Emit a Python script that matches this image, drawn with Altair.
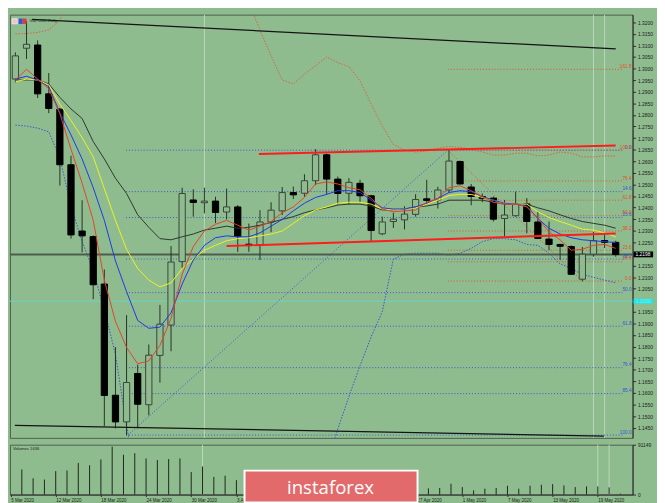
import altair as alt
import pandas as pd

BG = "#8fbc8f"
W_MAIN = 637
H_MAIN = 433
H_VOL = 51
X_DOMAIN = [-1.051, 54.077]
P_DOMAIN = [1.1406, 1.3233]
V_MAX = 91149

# ---------------- data ----------------
bar_idx = list(range(-1, 54))
opens = [1.2955, 1.3088, 1.3102, 1.2891, 1.2825, 1.2585, 1.2299, 1.2275, 1.2070, 1.1590,
         1.1475, 1.1684, 1.1549, 1.1762, 1.1893, 1.2167, 1.2433, 1.2421, 1.2428, 1.2381,
         1.2403, 1.2242, 1.2240, 1.2338, 1.2386, 1.2465, 1.2462, 1.2516, 1.2628, 1.2523,
         1.2462, 1.2505, 1.2451, 1.2287, 1.2340, 1.2347, 1.2371, 1.2438, 1.2433, 1.2476,
         1.2599, 1.2489, 1.2448, 1.2441, 1.2353, 1.2365, 1.2416, 1.2338, 1.2264, 1.2241,
         1.2232, 1.2091, 1.2199, 1.2258, 1.2250]
highs = [1.3070, 1.3205, 1.3122, 1.2981, 1.2830, 1.2624, 1.2432, 1.2280, 1.2133, 1.1798,
         1.1936, 1.1722, 1.1809, 1.1980, 1.2234, 1.2486, 1.2479, 1.2486, 1.2447, 1.2482,
         1.2411, 1.2331, 1.2389, 1.2423, 1.2489, 1.2491, 1.2544, 1.2652, 1.2634, 1.2534,
         1.2527, 1.2520, 1.2455, 1.2361, 1.2378, 1.2406, 1.2458, 1.2520, 1.2490, 1.2648,
         1.2603, 1.2502, 1.2461, 1.2448, 1.2433, 1.2469, 1.2441, 1.2382, 1.2340, 1.2244,
         1.2237, 1.2230, 1.2295, 1.2292, 1.2257]
lows = [1.2940, 1.3042, 1.2873, 1.2808, 1.2495, 1.2266, 1.2207, 1.2005, 1.1457, 1.1447,
        1.1418, 1.1447, 1.1503, 1.1644, 1.1780, 1.2140, 1.2361, 1.2375, 1.2333, 1.2349,
        1.2209, 1.2209, 1.2174, 1.2294, 1.2368, 1.2437, 1.2447, 1.2497, 1.2458, 1.2414,
        1.2414, 1.2423, 1.2253, 1.2281, 1.2312, 1.2306, 1.2361, 1.2416, 1.2396, 1.2465,
        1.2500, 1.2410, 1.2423, 1.2340, 1.2275, 1.2361, 1.2289, 1.2264, 1.2216, 1.2174,
        1.2109, 1.2082, 1.2188, 1.2225, 1.2188]
closes = [1.3055, 1.3105, 1.2891, 1.2828, 1.2585, 1.2282, 1.2278, 1.2067, 1.1589, 1.1475,
          1.1645, 1.1551, 1.1763, 1.1897, 1.2165, 1.2461, 1.2422, 1.2428, 1.2379, 1.2403,
          1.2275, 1.2236, 1.2338, 1.2389, 1.2465, 1.2455, 1.2516, 1.2628, 1.2523, 1.2461,
          1.2509, 1.2451, 1.2301, 1.2338, 1.2350, 1.2372, 1.2435, 1.2431, 1.2476, 1.2601,
          1.2502, 1.2448, 1.2440, 1.2350, 1.2368, 1.2416, 1.2340, 1.2267, 1.2241, 1.2233,
          1.2112, 1.2199, 1.2257, 1.2250, 1.2198]

ma_red = [1.2951, 1.2997, 1.2955, 1.2913, 1.2805, 1.2652, 1.2506, 1.2345, 1.2087, 1.1909,
          1.1796, 1.1726, 1.1738, 1.1805, 1.1921, 1.2112, 1.2232, 1.2299, 1.2328, 1.2345,
          1.2324, 1.2303, 1.2320, 1.2340, 1.2378, 1.2403, 1.2444, 1.2502, 1.2511, 1.2502,
          1.2486, 1.2477, 1.2440, 1.2394, 1.2382, 1.2386, 1.2390, 1.2423, 1.2440, 1.2486,
          1.2494, 1.2473, 1.2448, 1.2423, 1.2415, 1.2415, 1.2403, 1.2353, 1.2295, 1.2261,
          1.2216, 1.2220, 1.2237, 1.2241, 1.2224]
ma_blue = [1.2955, 1.2967, 1.2951, 1.2922, 1.2810, 1.2714, 1.2610, 1.2486, 1.2345, 1.2170,
           1.2037, 1.1913, 1.1879, 1.1884, 1.1946, 1.2070, 1.2174, 1.2237, 1.2270, 1.2278,
           1.2274, 1.2274, 1.2291, 1.2320, 1.2349, 1.2386, 1.2419, 1.2444, 1.2457, 1.2473,
           1.2473, 1.2465, 1.2432, 1.2399, 1.2394, 1.2394, 1.2403, 1.2419, 1.2440, 1.2465,
           1.2473, 1.2469, 1.2448, 1.2432, 1.2419, 1.2415, 1.2407, 1.2353, 1.2311, 1.2286,
           1.2270, 1.2261, 1.2257, 1.2253, 1.2249]
ma_yellow = [1.2943, 1.2955, 1.2951, 1.2930, 1.2847, 1.2776, 1.2702, 1.2619, 1.2482, 1.2345,
             1.2220, 1.2137, 1.2087, 1.2058, 1.2075, 1.2137, 1.2178, 1.2216, 1.2237, 1.2257,
             1.2266, 1.2270, 1.2278, 1.2286, 1.2299, 1.2332, 1.2365, 1.2390, 1.2403, 1.2419,
             1.2423, 1.2423, 1.2415, 1.2394, 1.2390, 1.2394, 1.2399, 1.2415, 1.2432, 1.2452,
             1.2457, 1.2457, 1.2444, 1.2432, 1.2419, 1.2415, 1.2415, 1.2382, 1.2357, 1.2340,
             1.2324, 1.2307, 1.2303, 1.2291, 1.2274]
ma_gray = [1.2951, 1.2951, 1.2951, 1.2934, 1.2876, 1.2826, 1.2785, 1.2685, 1.2610, 1.2527,
           1.2461, 1.2369, 1.2315, 1.2266, 1.2261, 1.2274, 1.2286, 1.2303, 1.2311, 1.2320,
           1.2311, 1.2315, 1.2324, 1.2336, 1.2349, 1.2361, 1.2378, 1.2390, 1.2399, 1.2411,
           1.2415, 1.2415, 1.2407, 1.2390, 1.2390, 1.2394, 1.2403, 1.2407, 1.2415, 1.2432,
           1.2432, 1.2432, 1.2432, 1.2423, 1.2415, 1.2415, 1.2415, 1.2399, 1.2386, 1.2369,
           1.2353, 1.2340, 1.2332, 1.2324, 1.2311]

# Bollinger-style envelope (dotted), two visible pieces each
bb_up_idx_a = [-1, 0, 1, 2, 3, 3.3]
bb_up_val_a = [1.3150, 1.3152, 1.3156, 1.3167, 1.3208, 1.3254]
bb_up_idx_b = [20.3, 21, 22, 23, 24, 25, 26, 27, 28, 29, 30, 31, 32, 33, 34, 35, 36, 37,
               38, 39, 40, 41, 42, 43, 44, 45, 46, 47, 48, 49, 50, 51, 52, 53]
bb_up_val_b = [1.3250, 1.3167, 1.3055, 1.2951, 1.2934, 1.2976, 1.3013, 1.3050, 1.3026, 1.3009,
               1.2947, 1.2847, 1.2752, 1.2673, 1.2648, 1.2640, 1.2644, 1.2656, 1.2664, 1.2660,
               1.2652, 1.2640, 1.2627, 1.2627, 1.2635, 1.2635, 1.2623, 1.2627, 1.2640, 1.2635,
               1.2619, 1.2619, 1.2623, 1.2623]
bb_lo_idx_a = [-1, 0, 1, 2, 3, 4, 5, 6, 7, 8, 9, 9.3]
bb_lo_val_a = [1.2756, 1.2752, 1.2743, 1.2727, 1.2614, 1.2407, 1.2253, 1.2129, 1.1958, 1.1767,
               1.1456, 1.1380]
bb_lo_idx_b = [27.6, 28, 29, 30, 31, 32, 33, 34, 35, 36, 37, 38, 39, 40, 41, 42, 43, 44, 45,
               46, 47, 48, 49, 50, 51, 52, 53]
bb_lo_val_b = [1.1380, 1.1444, 1.1584, 1.1718, 1.1842, 1.1950, 1.2178, 1.2199, 1.2203, 1.2203,
               1.2203, 1.2195, 1.2203, 1.2224, 1.2253, 1.2266, 1.2266, 1.2261, 1.2241, 1.2237,
               1.2203, 1.2157, 1.2137, 1.2112, 1.2099, 1.2087, 1.2075]

# Fibonacci levels
fib_blue_prices = [1.2648, 1.2469, 1.2357, 1.2178, 1.2033, 1.1888, 1.1709, 1.1597, 1.1418]
fib_blue_labels = ["0.0", "14.6", "23.6", "38.2", "50.0", "61.8", "76.4", "85.4", "100.0"]
fib_blue_span = [8.95, 53.6]
fib_red_prices = [1.2083, 1.2166, 1.2216, 1.2299, 1.2365, 1.2432, 1.2515, 1.2648, 1.2997]
fib_red_labels = ["0.0", "14.6", "23.6", "38.2", "50.0", "61.8", "76.4", "100.0", "161.8"]
fib_red_span = [37.9, 53.6]

# straight lines: (x1, p1, x2, p2)
trend_black = [(0.5, 1.3213, 53.0, 1.3085), (-1.05, 1.1460, 51.95, 1.1414)]
trend_red = [(20.9, 1.2631, 53.0, 1.2668), (18.0, 1.2234, 53.0, 1.2288)]
fib_diag_blue = [(9.12, 1.1418, 37.9, 1.2648)]
fib_diag_red = [(37.9, 1.2648, 50.0, 1.2083)]

bid_price = 1.2198
cyan_price = 1.1996
separator_idx = [16, 51, 52]

price_ticks = [1.3200, 1.3150, 1.3100, 1.3050, 1.3000, 1.2950, 1.2900, 1.2850, 1.2800,
               1.2750, 1.2700, 1.2650, 1.2600, 1.2550, 1.2500, 1.2450, 1.2400, 1.2350,
               1.2300, 1.2250, 1.2200, 1.2150, 1.2100, 1.2050, 1.2000, 1.1950, 1.1900,
               1.1850, 1.1800, 1.1750, 1.1700, 1.1650, 1.1600, 1.1550, 1.1500, 1.1450]

vol_idx = list(range(0, 54))
volumes = [45900, 29800, 27400, 42900, 44100, 57800, 53600, 64300, 87600, 72700,
           75600, 66100, 63100, 64900, 66100, 41100, 51300, 32200, 34500, 26300,
           24000, 22000, 21000, 20000, 21000, 19000, 18000, 20000, 22000, 17000,
           16000, 15000, 14000, 15000, 14000, 13000,
           11300, 12000, 19700, 13700, 7700, 10700, 12000, 16100, 10700, 16100,
           17900, 19100, 16700, 13700, 14900, 14900, 13100, 1636]

date_pos = [-0.97, 3, 7, 11, 15, 19, 23, 27, 31, 35, 39, 43, 47, 51]
date_lbl = ["5 Mar 2020", "12 Mar 2020", "18 Mar 2020", "24 Mar 2020", "30 Mar 2020",
            "3 Apr 2020", "9 Apr 2020", "15 Apr 2020", "21 Apr 2020", "27 Apr 2020",
            "1 May 2020", "7 May 2020", "13 May 2020", "19 May 2020"]

# ---------------- frames ----------------
candles = pd.DataFrame({"idx": bar_idx, "open": opens, "high": highs,
                        "low": lows, "close": closes})
bull = candles[candles["close"] >= candles["open"]]
bear = candles[candles["close"] < candles["open"]]


def line_frame(xs_, vs_, seg="a"):
    return pd.DataFrame({"idx": xs_, "val": vs_, "seg": seg})


bb_up = pd.concat([line_frame(bb_up_idx_a, bb_up_val_a, "a"), line_frame(bb_up_idx_b, bb_up_val_b, "b")])
bb_lo = pd.concat([line_frame(bb_lo_idx_a, bb_lo_val_a, "a"), line_frame(bb_lo_idx_b, bb_lo_val_b, "b")])

fib_blue = pd.DataFrame({"x1": fib_blue_span[0], "x2": fib_blue_span[1],
                         "price": fib_blue_prices, "label": fib_blue_labels})
fib_red = pd.DataFrame({"x1": fib_red_span[0], "x2": fib_red_span[1],
                        "price": fib_red_prices, "label": fib_red_labels})


def seg_frame(rows):
    return pd.DataFrame([{"x1": a, "p1": b, "x2": c, "p2": d} for a, b, c, d in rows])


vol_df = pd.DataFrame({"idx": vol_idx, "vol": volumes, "zero": 0})
sep_df = pd.DataFrame({"idx": separator_idx})
one = pd.DataFrame({"k": [0]})

# ---------------- scales / axes ----------------
xs = alt.Scale(domain=X_DOMAIN, nice=False, zero=False)
ys = alt.Scale(domain=P_DOMAIN, nice=False, zero=False)
vs = alt.Scale(domain=[0, V_MAX], nice=False, zero=True)

price_axis = alt.Axis(orient="right", values=price_ticks, format=".4f", title=None,
                      grid=False, labelFontSize=5, tickSize=3, labelPadding=2,
                      domainColor="#2b2b2b", tickColor="#2b2b2b", labelColor="#1a1a1a")


def X(f="idx"):
    return alt.X(f"{f}:Q", scale=xs, axis=None)


def Y(f):
    return alt.Y(f"{f}:Q", scale=ys, axis=price_axis)


def ma_layer(values, color):
    return alt.Chart(line_frame(bar_idx, values)).mark_line(
        strokeWidth=1, color=color, clip=True).encode(x=X(), y=Y("val"))


def seg_layer(rows, color, width, dash=None):
    kw = dict(color=color, strokeWidth=width, clip=True)
    if dash:
        kw["strokeDash"] = dash
    return alt.Chart(seg_frame(rows)).mark_rule(**kw).encode(
        x=X("x1"), x2=alt.X2("x2:Q"), y=Y("p1"), y2=alt.Y2("p2:Q"))


def fib_layers(df, color):
    lines = alt.Chart(df).mark_rule(strokeDash=[1, 2], strokeWidth=1, color=color).encode(
        x=X("x1"), x2=alt.X2("x2:Q"), y=Y("price"))
    text = alt.Chart(df).mark_text(align="right", baseline="bottom", dy=-0.5,
                                   fontSize=4.8, color=color).encode(
        x=alt.value(636), y=Y("price"), text="label:N")
    return lines, text


wicks = alt.Chart(candles).mark_rule(color="#263026", strokeWidth=1, clip=True).encode(
    x=X(), y=Y("low"), y2=alt.Y2("high:Q"))
bodies_bull = alt.Chart(bull).mark_bar(size=6.4, strokeWidth=1, fill=BG, stroke="#3a443a",
                                        clip=True).encode(
    x=X(), y=Y("open"), y2=alt.Y2("close:Q"))
bodies_bear = alt.Chart(bear).mark_bar(size=6.4, strokeWidth=1, fill="#000000", stroke="#000000",
                                        clip=True).encode(
    x=X(), y=Y("open"), y2=alt.Y2("close:Q"))

fib_b_lines, fib_b_text = fib_layers(fib_blue, "#3553d6")
fib_r_lines, fib_r_text = fib_layers(fib_red, "#e0502a")

diag_b = seg_layer(fib_diag_blue, "#3553d6", 1, [1, 2])
diag_r = seg_layer(fib_diag_red, "#e0502a", 1, [1, 2])

bb_up_line = alt.Chart(bb_up).mark_line(strokeDash=[1.5, 1.5], strokeWidth=1, color="#d9603b",
                                        clip=True).encode(x=X(), y=Y("val"), detail="seg:N")
bb_lo_line = alt.Chart(bb_lo).mark_line(strokeDash=[1.5, 1.5], strokeWidth=1, color="#3553d6",
                                        clip=True).encode(x=X(), y=Y("val"), detail="seg:N")

seps_main = alt.Chart(sep_df).mark_rule(color="#b9d9b9", strokeWidth=1).encode(x=X())

bid_line = alt.Chart(pd.DataFrame({"price": [bid_price]})).mark_rule(
    color="#4e5c4e", strokeWidth=2).encode(y=Y("price"))
cyan_line = alt.Chart(pd.DataFrame({"price": [cyan_price]})).mark_rule(
    color="#66d6c6", strokeWidth=1).encode(y=Y("price"))

ma_g = ma_layer(ma_gray, "#2c362c")
ma_y = ma_layer(ma_yellow, "#f2f21e")
ma_b = ma_layer(ma_blue, "#1f36ea")
ma_r = ma_layer(ma_red, "#e8402a")

tr_black = seg_layer(trend_black, "#141414", 1.3)
tr_red = seg_layer(trend_red, "#ff1c1c", 2)

price_box = alt.Chart(pd.DataFrame({"price": [bid_price], "t": ["1.2198"]}))
box_bg = price_box.mark_rule(color="#000000", strokeWidth=6).encode(
    x=alt.value(638), x2=alt.value(658), y=Y("price"))
box_tx = price_box.mark_text(color="white", fontSize=5, align="left", baseline="middle").encode(
    x=alt.value(640), y=Y("price"), text="t:N")
cyan_box = alt.Chart(pd.DataFrame({"price": [cyan_price], "t": ["1.2000"]}))
cbox_bg = cyan_box.mark_rule(color="#22e6e6", strokeWidth=5).encode(
    x=alt.value(638), x2=alt.value(658), y=Y("price"))
cbox_tx = cyan_box.mark_text(color="#7ef2f2", fontSize=5, align="left", baseline="middle").encode(
    x=alt.value(640), y=Y("price"), text="t:N")

title_tx = alt.Chart(one).mark_text(text="GBPUSD,Daily", fontSize=4.2, align="left",
                                    baseline="middle", color="#1e1e1e").encode(
    x=alt.value(20), y=alt.value(7))
icon1 = alt.Chart(one).mark_rect(fill="#f2c4d2", stroke="#ffffff", strokeWidth=0.5).encode(
    x=alt.value(2), x2=alt.value(7.5), y=alt.value(4), y2=alt.value(9.5))
icon2 = alt.Chart(one).mark_rect(fill="#2f50e0").encode(
    x=alt.value(9), x2=alt.value(13), y=alt.value(4), y2=alt.value(9.5))
icon3 = alt.Chart(one).mark_rect(fill="#e03a3a").encode(
    x=alt.value(13), x2=alt.value(17), y=alt.value(4), y2=alt.value(9.5))

main = alt.layer(
    seps_main, cyan_line, fib_b_lines, fib_r_lines, diag_b, diag_r, bb_up_line, bb_lo_line,
    bid_line, wicks, bodies_bull, bodies_bear, ma_g, ma_y, ma_b, ma_r, tr_black, tr_red,
    fib_b_text, fib_r_text, box_bg, box_tx, cbox_bg, cbox_tx, title_tx, icon1, icon2, icon3
).properties(width=W_MAIN, height=H_MAIN)

# ---------------- volume panel ----------------
label_expr = "".join(f"datum.value == {p} ? '{l}' : " for p, l in zip(date_pos, date_lbl)) + "''"
vol_x_axis = alt.Axis(values=date_pos, labelExpr=label_expr, labelAlign="left", labelFontSize=4.6,
                      tickSize=2, labelPadding=1, labelFlush=False, labelOverlap=False,
                      title=None, grid=False, domainColor="#2b2b2b", tickColor="#2b2b2b",
                      labelColor="#1a1a1a")
vol_y_axis = alt.Axis(orient="right", values=[0, V_MAX], format="d", title=None, grid=False,
                      labelFontSize=5, tickSize=3, labelPadding=2, domainColor="#2b2b2b",
                      tickColor="#2b2b2b", labelColor="#1a1a1a")

vol_bars = alt.Chart(vol_df).mark_rule(color="#1d241d", strokeWidth=1).encode(
    x=alt.X("idx:Q", scale=xs, axis=vol_x_axis),
    y=alt.Y("vol:Q", scale=vs, axis=vol_y_axis),
    y2=alt.Y2("zero:Q"))
seps_vol = alt.Chart(sep_df).mark_rule(color="#b9d9b9", strokeWidth=1).encode(
    x=alt.X("idx:Q", scale=xs, axis=vol_x_axis))
vol_tx = alt.Chart(one).mark_text(text="Volumes 1636", fontSize=4.3, align="left",
                                  baseline="middle", color="#1e1e1e").encode(
    x=alt.value(3), y=alt.value(4))
logo_bg = alt.Chart(one).mark_rect(fill="#e36a6a", stroke="#ffffff", strokeWidth=2).encode(
    x=alt.value(240), x2=alt.value(417), y=alt.value(26.5), y2=alt.value(59))
logo_tx = alt.Chart(one).mark_text(text="instaforex", font="Open Sans", fontSize=19,
                                   color="#ffffff", align="center", baseline="alphabetic").encode(
    x=alt.value(328), y=alt.value(50))

vol = alt.layer(seps_vol, vol_bars, vol_tx, logo_bg, logo_tx).properties(width=W_MAIN, height=H_VOL)

chart = alt.vconcat(main, vol, spacing=3).properties(
    padding=0, background=BG
).configure(font="Liberation Sans").configure_view(stroke="#4f5c4f", strokeWidth=1)

chart.save("out.html", embed_options={"renderer": "svg", "actions": False})
